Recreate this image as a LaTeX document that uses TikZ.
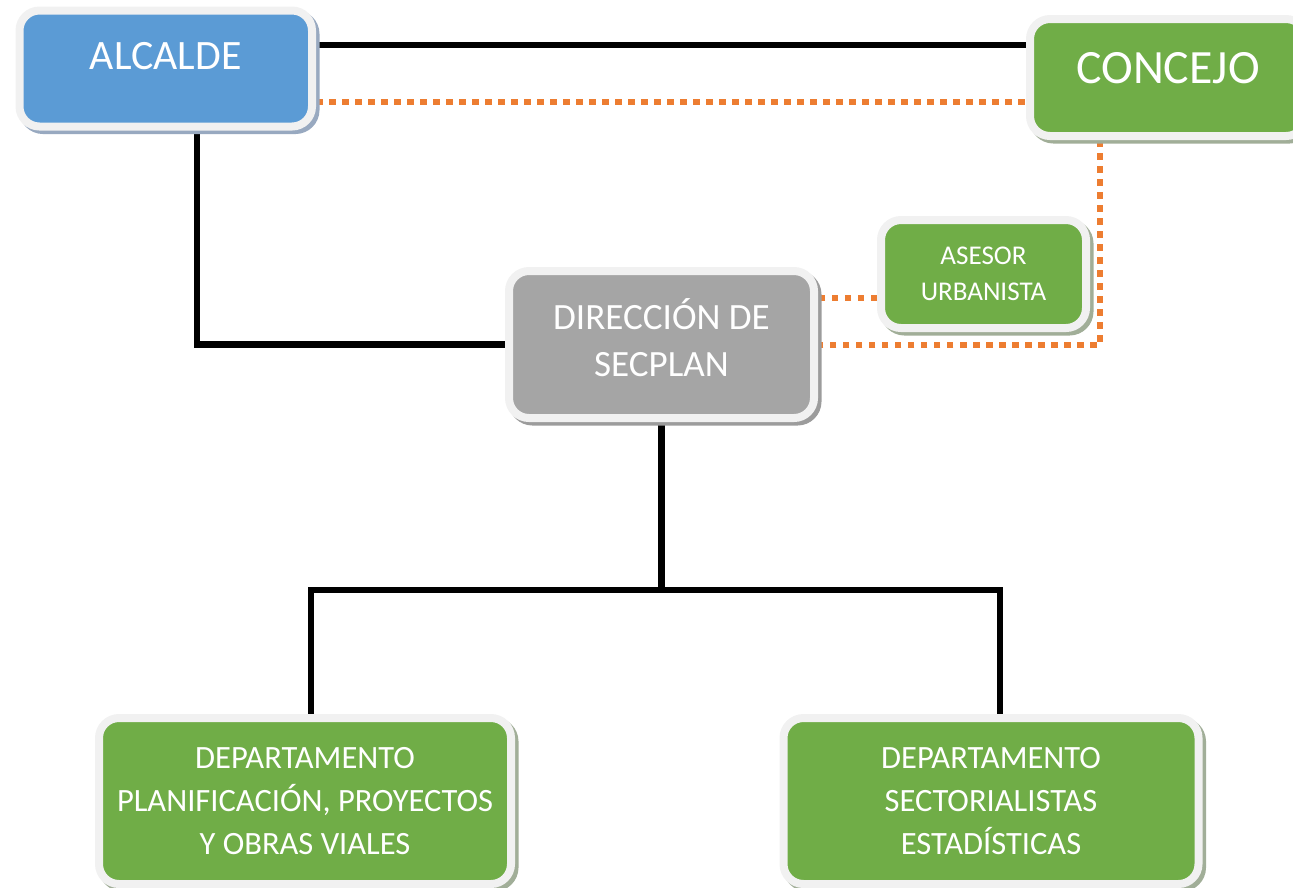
\documentclass[tikz,border=0pt]{standalone}
\usepackage{fontspec}
\setmainfont{Carlito}
\usepackage{tikz}
\usetikzlibrary{shadows,backgrounds}

\definecolor{boxblue}{HTML}{5B9BD5}
\definecolor{boxgreen}{HTML}{70AD47}
\definecolor{boxgray}{HTML}{A5A5A5}
\definecolor{rimgray}{HTML}{F1F1F1}
\definecolor{shadeblue}{HTML}{98A9C0}
\definecolor{shadegreen}{HTML}{A1AE98}
\definecolor{shadegray}{HTML}{9C9C9C}
\definecolor{linkorange}{HTML}{ED7D31}

\begin{document}
\begin{tikzpicture}[
	box/.style={rectangle, rounded corners=0.4cm, draw=rimgray, line width=0.16cm, text=white, align=center, inner sep=0pt},
	boxshade/.style={drop shadow={shadow xshift=0.07cm, shadow yshift=-0.07cm, fill=#1, draw=#1, opacity=1}},
	solidline/.style={line width=0.13cm, black},
	dotline/.style={line width=0.12cm, linkorange, dash pattern=on 0.13cm off 0.13cm},
]
	\useasboundingbox (0,0) rectangle (25.86cm,-17.74cm);
	\clip (0,0) rectangle (25.86cm,-17.74cm);
	% top row
	\node[box, fill=boxblue, boxshade=shadeblue, minimum width=5.85cm, minimum height=2.32cm, text depth=0.52cm, font=\fontsize{23.8}{28}\selectfont] (alcalde) at (3.315cm,-1.37cm) {ALCALDE};
	\node[box, fill=boxgreen, boxshade=shadegreen, minimum width=5.52cm, minimum height=2.34cm, text depth=0.38cm, font=\fontsize{27.2}{32}\selectfont] (concejo) at (23.36cm,-1.55cm) {CONCEJO};
	% middle
	\node[box, fill=boxgreen, boxshade=shadegreen, minimum width=4.1cm, minimum height=2.16cm, font=\fontsize{15.4}{20.5}\selectfont] (asesor) at (19.67cm,-5.48cm) {ASESOR\\URBANISTA};
	\node[box, fill=boxgray, boxshade=shadegray, minimum width=6.1cm, minimum height=2.94cm, text depth=0.28cm, font=\fontsize{21.1}{27.3}\selectfont] (direccion) at (13.23cm,-6.89cm) {DIRECCIÓN DE\\SECPLAN};
	% departamentos
	\node[box, fill=boxgreen, boxshade=shadegreen, minimum width=8.24cm, minimum height=3.32cm, font=\fontsize{18.5}{24.4}\selectfont] (planif) at (6.10cm,-16.02cm) {DEPARTAMENTO\\PLANIFICACIÓN, PROYECTOS\\Y OBRAS VIALES};
	\node[box, fill=boxgreen, boxshade=shadegreen, minimum width=8.3cm, minimum height=3.32cm, font=\fontsize{18.5}{24.4}\selectfont] (sector) at (19.82cm,-16.02cm) {DEPARTAMENTO\\SECTORIALISTAS\\ESTADÍSTICAS};

	\coordinate (toplink) at ([yshift=0.47cm]alcalde.east);
	\coordinate (topdots) at ([yshift=-0.67cm]alcalde.east);
	\coordinate (asesorlink) at ([yshift=-0.48cm]asesor.west);
	\coordinate (bus) at ([yshift=-3.36cm]direccion.south);
	\coordinate (planlink) at ([xshift=0.12cm]planif.north);
	\coordinate (sectlink) at ([xshift=0.18cm]sector.north);
	\begin{scope}[on background layer]
		\draw[solidline] (toplink) -- (toplink -| concejo.west);
		\draw[dotline] (topdots) -- (topdots -| concejo.west);
		\draw[solidline] ([xshift=0.62cm]alcalde.south) |- (direccion.west);
		\draw[dotline] ([xshift=-1.36cm]concejo.south) |- (direccion.east);
		\draw[dotline] (asesorlink) -- (asesorlink -| direccion.east);
		\draw[solidline] (direccion.south) -- (bus);
		\draw[solidline] (planlink) |- (bus) -| (sectlink);
	\end{scope}
\end{tikzpicture}
\end{document}
